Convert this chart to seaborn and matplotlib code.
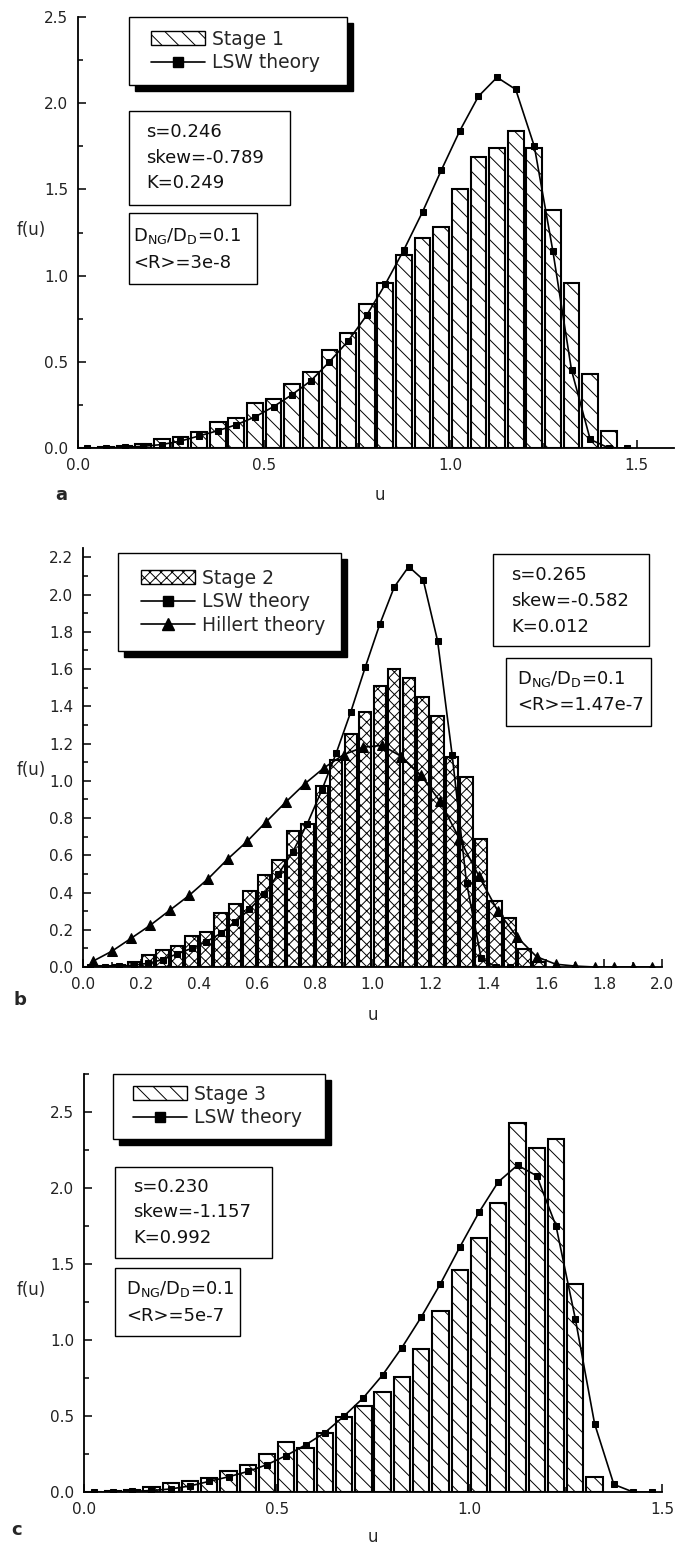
import numpy as np
import pandas as pd
import seaborn as sns
import matplotlib.pyplot as plt
from matplotlib.patches import Rectangle, Patch
from matplotlib.lines import Line2D
from matplotlib.ticker import MultipleLocator

# bin centres (bin width 0.05) and measured f(u)
u_a = [0.025, 0.075, 0.125, 0.175, 0.225, 0.275, 0.325, 0.375, 0.425, 0.475,
       0.525, 0.575, 0.625, 0.675, 0.725, 0.775, 0.825, 0.875, 0.925, 0.975,
       1.025, 1.075, 1.125, 1.175, 1.225, 1.275, 1.325, 1.375, 1.425]
stage1 = [0.0, 0.005, 0.012, 0.025, 0.05, 0.062, 0.095, 0.15, 0.175, 0.26,
          0.285, 0.37, 0.44, 0.57, 0.665, 0.835, 0.955, 1.12, 1.22, 1.28,
          1.50, 1.69, 1.74, 1.84, 1.74, 1.38, 0.955, 0.43, 0.10]

u_b = [0.025, 0.075, 0.125, 0.175, 0.225, 0.275, 0.325, 0.375, 0.425, 0.475,
       0.525, 0.575, 0.625, 0.675, 0.725, 0.775, 0.825, 0.875, 0.925, 0.975,
       1.025, 1.075, 1.125, 1.175, 1.225, 1.275, 1.325, 1.375, 1.425, 1.475,
       1.525, 1.575]
stage2 = [0.0, 0.005, 0.01, 0.025, 0.065, 0.09, 0.115, 0.165, 0.19, 0.29,
          0.34, 0.41, 0.495, 0.575, 0.73, 0.77, 0.97, 1.11, 1.25, 1.37,
          1.51, 1.60, 1.55, 1.45, 1.35, 1.13, 1.02, 0.69, 0.355, 0.265,
          0.095, 0.025]

u_c = [0.025, 0.075, 0.125, 0.175, 0.225, 0.275, 0.325, 0.375, 0.425, 0.475,
       0.525, 0.575, 0.625, 0.675, 0.725, 0.775, 0.825, 0.875, 0.925, 0.975,
       1.025, 1.075, 1.125, 1.175, 1.225, 1.275, 1.325]
stage3 = [0.0, 0.005, 0.015, 0.035, 0.06, 0.075, 0.09, 0.135, 0.18, 0.25,
          0.33, 0.29, 0.385, 0.495, 0.565, 0.66, 0.755, 0.94, 1.19, 1.46,
          1.67, 1.90, 2.43, 2.26, 2.32, 1.37, 0.10]

# LSW theory points
u_lsw = [0.025, 0.075, 0.125, 0.175, 0.225, 0.275, 0.325, 0.375, 0.425, 0.475,
         0.525, 0.575, 0.625, 0.675, 0.725, 0.775, 0.825, 0.875, 0.925, 0.975,
         1.025, 1.075, 1.125, 1.175, 1.225, 1.275, 1.325, 1.375, 1.425, 1.475]
f_lsw = [0.0, 0.0, 0.004, 0.01, 0.02, 0.04, 0.07, 0.10, 0.135, 0.18,
         0.24, 0.31, 0.39, 0.50, 0.62, 0.77, 0.95, 1.15, 1.37, 1.61,
         1.84, 2.04, 2.15, 2.08, 1.75, 1.14, 0.45, 0.05, 0.0, 0.0]

# Hillert theory points
u_hil = [0.033, 0.100, 0.167, 0.233, 0.300, 0.367, 0.433, 0.500, 0.567, 0.633,
         0.700, 0.767, 0.833, 0.900, 0.967, 1.033, 1.100, 1.167, 1.233, 1.300,
         1.367, 1.433, 1.500, 1.567, 1.633, 1.700, 1.767, 1.833, 1.900, 1.967]
f_hil = [0.03, 0.085, 0.155, 0.225, 0.305, 0.385, 0.475, 0.58, 0.675, 0.78,
         0.885, 0.985, 1.07, 1.14, 1.18, 1.19, 1.13, 1.03, 0.89, 0.69,
         0.49, 0.30, 0.16, 0.055, 0.015, 0.005, 0.0, 0.0, 0.0, 0.0]

W, H = 675, 1547

sns.set_theme(style="ticks")
plt.rcParams['font.family'] = ['DejaVu Sans']
plt.rcParams['mathtext.default'] = 'regular'
plt.rcParams['hatch.linewidth'] = 0.7
plt.rcParams['hatch.color'] = '#444444'

fig = plt.figure(figsize=(6.75, 15.47), dpi=100)


def rect(l, r, t, b):
    return [l / W, 1 - b / H, (r - l) / W, (b - t) / H]


def fy(y):
    return 1 - y / H


def bars(ax, u, f, hatch):
    d = pd.DataFrame({'u': u, 'f': f})
    sns.histplot(data=d, x='u', weights='f', binwidth=0.05,
                 binrange=(0, u[-1] + 0.025), shrink=0.85, fill=True,
                 color='white', alpha=1, edgecolor='black', linewidth=1.5,
                 hatch=hatch, ax=ax, zorder=2)


def lsw(ax):
    sns.lineplot(x=u_lsw, y=f_lsw, marker='s', markersize=5, color='black',
                 linewidth=1.2, markeredgecolor='black', ax=ax, zorder=3)


def style(ax, xmax, ymax, xmaj, ymaj):
    ax.set_xlim(0, xmax)
    ax.set_ylim(0, ymax)
    ax.xaxis.set_major_locator(MultipleLocator(xmaj))
    ax.xaxis.set_minor_locator(MultipleLocator(xmaj / 2))
    ax.yaxis.set_major_locator(MultipleLocator(ymaj))
    ax.yaxis.set_minor_locator(MultipleLocator(ymaj / 2))
    ax.tick_params(which='both', direction='in', width=1.1, color='black',
                   labelsize=11, labelcolor='#222222')
    ax.tick_params(which='major', length=6, pad=7)
    ax.tick_params(which='minor', length=3.5)
    for s in ['top', 'right']:
        ax.spines[s].set_visible(False)
    for s in ['left', 'bottom']:
        ax.spines[s].set_linewidth(1.3)
        ax.spines[s].set_color('black')
    ax.set_xlabel('')
    ax.set_ylabel('')
    ax.set_facecolor('none')


def frame(x0, x1, y0, y1, shadow=False):
    if shadow:
        fig.add_artist(Rectangle((x0 / W + 6 / W, fy(y1) - 6 / H), (x1 - x0) / W,
                                 (y1 - y0) / H, transform=fig.transFigure,
                                 fc='black', ec='black', zorder=4))
    fig.add_artist(Rectangle((x0 / W, fy(y1)), (x1 - x0) / W, (y1 - y0) / H,
                             transform=fig.transFigure, fc='white', ec='black',
                             lw=1.0, zorder=5))


def lines_text(x, ys, texts):
    for y, t in zip(ys, texts):
        fig.text(x / W, fy(y), t, fontsize=13, va='center', ha='left',
                 color='#111111', zorder=6)


def legend(handles, labels, x, yc):
    leg = fig.legend(handles, labels, loc='center left',
                     bbox_to_anchor=(x / W, fy(yc)), bbox_transform=fig.transFigure,
                     frameon=False, fontsize=13.5, handlelength=2.9,
                     handleheight=0.8, handletextpad=0.35, labelspacing=0.25,
                     borderpad=0, borderaxespad=0)
    leg.set_zorder(8)


sq = Line2D([], [], color='black', marker='s', markersize=7, lw=1.2)
tri = Line2D([], [], color='black', marker='^', markersize=8, lw=1.2)

# ---- panel a
ax = fig.add_axes(rect(78, 674, 17, 448))
bars(ax, u_a, stage1, '\\\\')
lsw(ax)
style(ax, 1.6, 2.5, 0.5, 0.5)
frame(129, 347, 17, 85, shadow=True)
legend([Patch(fc='white', ec='black', hatch='\\\\'), sq],
       ['Stage 1', 'LSW theory'], 151, 51)
frame(129, 290, 111, 205)
lines_text(146, [132, 158, 183], ['s=0.246', 'skew=-0.789', 'K=0.249'])
frame(129, 257, 213, 284)
lines_text(133, [236, 263], ['D$_{NG}$/D$_D$=0.1', '<R>=3e-8'])
fig.text(31 / W, fy(230), 'f(u)', fontsize=12, ha='center', va='center')
fig.text(380 / W, fy(495), 'u', fontsize=12, ha='center', va='center')
fig.text(61 / W, fy(495), 'a', fontsize=13, fontweight='bold', ha='center', va='center')

# ---- panel b
ax = fig.add_axes(rect(83, 662, 548, 967))
bars(ax, u_b, stage2, 'xxx')
lsw(ax)
sns.lineplot(x=u_hil, y=f_hil, marker='^', markersize=6.5, color='black',
             linewidth=1.2, markeredgecolor='black', ax=ax, zorder=3)
style(ax, 2.0, 2.25, 0.2, 0.2)
frame(118, 341, 553, 651, shadow=True)
legend([Patch(fc='white', ec='black', hatch='xxx'), sq, tri],
       ['Stage 2', 'LSW theory', 'Hillert theory'], 141, 602)
frame(493, 649, 554, 646)
lines_text(511, [575, 601, 627], ['s=0.265', 'skew=-0.582', 'K=0.012'])
frame(506, 651, 658, 726)
lines_text(517, [679, 705], ['D$_{NG}$/D$_D$=0.1', '<R>=1.47e-7'])
fig.text(31 / W, fy(770), 'f(u)', fontsize=12, ha='center', va='center')
fig.text(373 / W, fy(1015), 'u', fontsize=12, ha='center', va='center')
fig.text(20 / W, fy(1000), 'b', fontsize=13, fontweight='bold', ha='center', va='center')

# ---- panel c
ax = fig.add_axes(rect(84, 662, 1074, 1492))
bars(ax, u_c, stage3, '\\\\')
lsw(ax)
style(ax, 1.5, 2.75, 0.5, 0.5)
frame(113, 325, 1074, 1139, shadow=True)
legend([Patch(fc='white', ec='black', hatch='\\\\'), sq],
       ['Stage 3', 'LSW theory'], 133, 1106)
frame(115, 272, 1167, 1258)
lines_text(133, [1187, 1212, 1238], ['s=0.230', 'skew=-1.157', 'K=0.992'])
frame(115, 240, 1268, 1336)
lines_text(126, [1289, 1316], ['D$_{NG}$/D$_D$=0.1', '<R>=5e-7'])
fig.text(31 / W, fy(1290), 'f(u)', fontsize=12, ha='center', va='center')
fig.text(373 / W, fy(1537), 'u', fontsize=12, ha='center', va='center')
fig.text(17 / W, fy(1530), 'c', fontsize=13, fontweight='bold', ha='center', va='center')

fig.savefig('out.png', dpi=100, facecolor='white')
